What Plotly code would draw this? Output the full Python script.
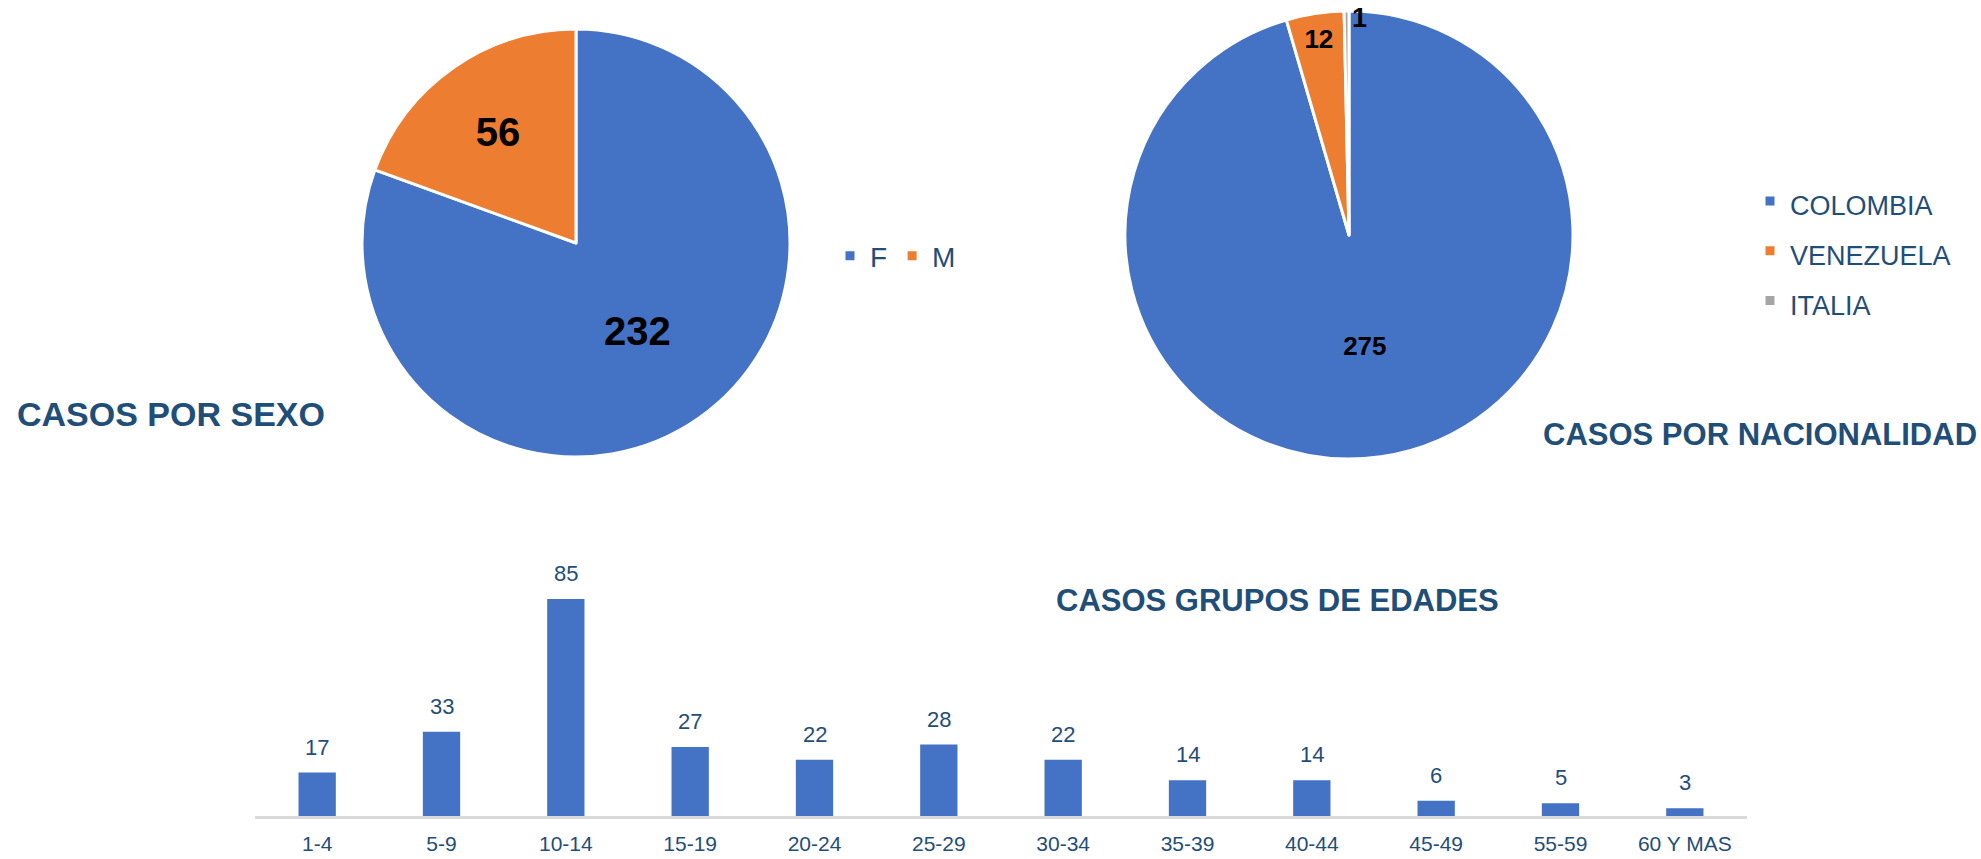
import plotly.graph_objects as go

# ---------------- data ----------------
sex_labels = ["F", "M"]
sex_values = [232, 56]

nat_labels = ["COLOMBIA", "VENEZUELA", "ITALIA"]
nat_values = [275, 12, 1]

age_groups = ["1-4", "5-9", "10-14", "15-19", "20-24", "25-29", "30-34",
              "35-39", "40-44", "45-49", "55-59", "60 Y MAS"]
age_values = [17, 33, 85, 27, 22, 28, 22, 14, 14, 6, 5, 3]

titles = ["CASOS POR SEXO", "CASOS POR NACIONALIDAD", "CASOS GRUPOS DE EDADES"]

# ---------------- style ----------------
W, H = 1981, 859
BLUE, ORANGE, GRAY = "#4472C4", "#ED7D31", "#A5A5A5"
TXT = "#1F4E79"
ARIAL = "Liberation Sans, Arial, sans-serif"


def fx(px):
    return px / W


def fy(px):
    return 1 - px / H


fig = go.Figure()

# Sex pie
fig.add_trace(go.Pie(
    labels=sex_labels, values=sex_values, sort=False,
    direction="clockwise", rotation=0,
    marker=dict(colors=[BLUE, ORANGE], line=dict(color="white", width=3)),
    textinfo="value", textposition="inside", insidetextorientation="horizontal",
    textfont=dict(family=ARIAL, size=40, color="black", weight="bold"),
    domain=dict(x=[fx(362), fx(790)], y=[fy(457), fy(29)]),
    legend="legend", hoverinfo="label+value",
))

# Nationality pie (legend rows spaced like the original via a larger legend line height)
nat_legend_labels = ['<span style="font-size:27px">%s</span>' % l for l in nat_labels]
fig.add_trace(go.Pie(
    labels=nat_legend_labels, values=nat_values, sort=False,
    direction="clockwise", rotation=0,
    marker=dict(colors=[BLUE, ORANGE, GRAY], line=dict(color="white", width=3)),
    textinfo="value", textposition=["inside", "inside", "none"],
    insidetextorientation="horizontal",
    textfont=dict(family=ARIAL, size=26, color="black", weight="bold"),
    domain=dict(x=[fx(1125), fx(1573)], y=[fy(459), fy(11)]),
    legend="legend2", hoverinfo="value",
))

# Age bars
fig.add_trace(go.Bar(
    x=age_groups, y=age_values, marker=dict(color=BLUE, line=dict(width=0)),
    width=0.3, showlegend=False, xaxis="x", yaxis="y",
))

annotations = []
for g, v in zip(age_groups, age_values):
    annotations.append(dict(
        x=g, y=v, xref="x", yref="y", text=str(v), showarrow=False,
        yanchor="bottom", yshift=11,
        font=dict(family=ARIAL, size=22, color=TXT),
    ))

# label of the tiny ITALIA slice (sits just right of 12 o'clock)
annotations.append(dict(
    x=fx(1359), y=fy(18), xref="paper", yref="paper", text=str(nat_values[2]),
    showarrow=False, xanchor="center", yanchor="middle",
    font=dict(family=ARIAL, size=27, color="black", weight="bold"),
))

annotations += [
    dict(x=fx(15), y=fy(414.5), xref="paper", yref="paper", text=titles[0],
         showarrow=False, xanchor="left", yanchor="middle",
         font=dict(family=ARIAL, size=34, color=TXT, weight="bold")),
    dict(x=fx(1979), y=fy(434), xref="paper", yref="paper", text=titles[1],
         showarrow=False, xanchor="right", yanchor="middle",
         font=dict(family=ARIAL, size=31, color=TXT, weight="bold")),
    dict(x=fx(1277), y=fy(600), xref="paper", yref="paper", text=titles[2],
         showarrow=False, xanchor="center", yanchor="middle",
         font=dict(family=ARIAL, size=31, color=TXT, weight="bold")),
]

fig.update_layout(
    width=W, height=H,
    margin=dict(l=0, r=0, t=0, b=0),
    paper_bgcolor="white", plot_bgcolor="white",
    showlegend=True,
    legend=dict(orientation="h", x=fx(830), xanchor="left", y=fy(256), yanchor="middle",
                font=dict(family=ARIAL, size=28, color=TXT), bgcolor="rgba(0,0,0,0)"),
    legend2=dict(orientation="v", x=fx(1750), xanchor="left", y=fy(251), yanchor="middle",
                 font=dict(family=ARIAL, size=36, color=TXT), bgcolor="rgba(0,0,0,0)"),
    xaxis=dict(domain=[fx(255), fx(1747)], showline=True, linecolor="#D9D9D9", linewidth=3,
               showgrid=False, zeroline=False, ticks="", ticklabelstandoff=7,
               tickfont=dict(family=ARIAL, size=21, color=TXT), fixedrange=True),
    yaxis=dict(domain=[fy(816), fy(560.7)], range=[0, 100], visible=False,
               showgrid=False, zeroline=False, fixedrange=True),
    annotations=annotations,
)

fig.write_html("out.html", config={"displayModeBar": False},
               post_script="document.body.style.margin='0';")
